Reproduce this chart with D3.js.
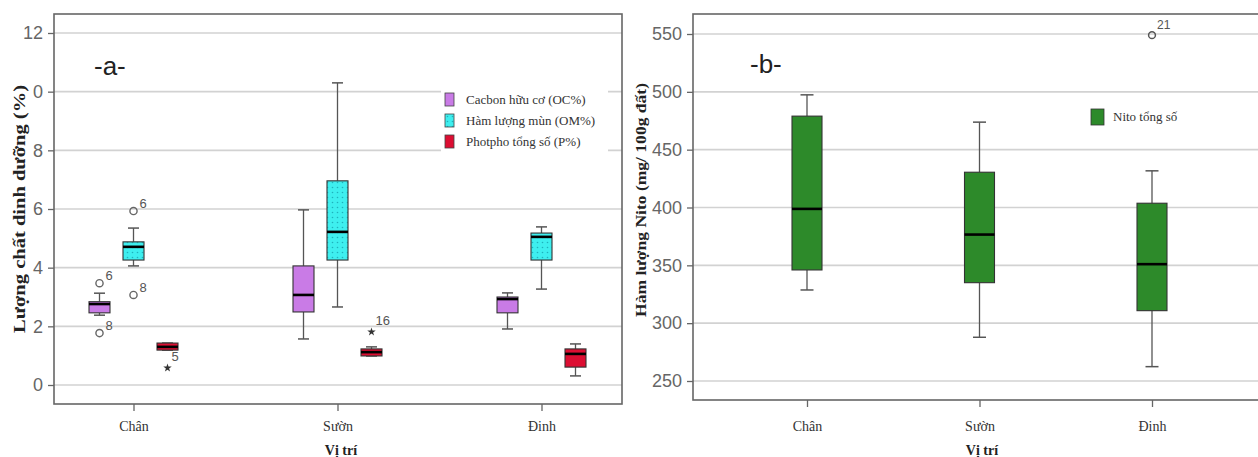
<!DOCTYPE html>
<html>
<head>
<meta charset="utf-8">
<script src="https://cdn.jsdelivr.net/npm/d3@7"></script>
<style>
  body { margin: 0; background: #fff; }
  svg { display: block; }
</style>
</head>
<body>
<div id="chart"></div>
<script>
// values
const categories = ["Chân", "Sườn", "Đinh"];
const seriesA = ["Cacbon hữu cơ (OC%)", "Hàm lượng mùn (OM%)", "Photpho tổng số (P%)"];

// [min, q1, median, q3, max] for each position
const ocStats = [[2.38, 2.46, 2.76, 2.84, 3.13], [1.57, 2.49, 3.07, 4.06, 5.97], [1.91, 2.46, 2.93, 3.0, 3.14]];
const omStats = [[4.06, 4.26, 4.71, 4.88, 5.35], [2.66, 4.26, 5.22, 6.96, 10.3], [3.27, 4.26, 5.05, 5.18, 5.39]];
const pStats  = [[1.19, 1.19, 1.30, 1.43, 1.43], [0.99, 0.99, 1.12, 1.23, 1.30], [0.31, 0.61, 1.06, 1.23, 1.40]];

// outliers: series, position, value, case number, kind
const aOutliers = [
  {s: 0, c: "Chân", v: 3.47, id: "6", kind: "o"},
  {s: 0, c: "Chân", v: 1.77, id: "8", kind: "o"},
  {s: 1, c: "Chân", v: 5.93, id: "6", kind: "o"},
  {s: 1, c: "Chân", v: 3.07, id: "8", kind: "o"},
  {s: 2, c: "Chân", v: 0.58, id: "5", kind: "*"},
  {s: 2, c: "Sườn", v: 1.81, id: "16", kind: "*"}
];
const aTicks = [0, 2, 4, 6, 8, 10, 12];
const aTickLabels = ["0", "2", "4", "6", "8", "0", "12"];

const seriesB = ["Nito tổng số"];
const nStats = [[328.7, 346, 398.8, 479, 497.4], [287.8, 335, 376.6, 430.5, 473.8], [262.4, 310.8, 351, 403.7, 431.7]];
const nOutliers = [{c: "Đinh", v: 549, id: "21"}];
const bTicks = [250, 300, 350, 400, 450, 500, 550];

const colorsA = ["#c97be6", "#3eefef", "#dc0e32"];
const colorB = "#2d8a2a";

const SERIF = "'Liberation Serif', 'Times New Roman', serif";
const NARROW = "'Liberation Sans Narrow', 'Arial Narrow', 'Liberation Sans', sans-serif";

let svg = d3.select("#chart").append("svg")
  .attr("width", 1258)
  .attr("height", 457);

// dotted fill for the OM boxes
let defs = svg.append("defs");
let pat = defs.append("pattern")
  .attr("id", "dots")
  .attr("width", 5).attr("height", 5)
  .attr("patternUnits", "userSpaceOnUse");
pat.append("rect").attr("width", 5).attr("height", 5).attr("fill", colorsA[1]);
pat.append("circle").attr("cx", 2.5).attr("cy", 2.5).attr("r", 0.8).attr("fill", "#1fb2bd");

function drawBox(g, cx, w, stats, y, fill, capW) {
  let [mn, q1, md, q3, mx] = stats;
  g.append("line").attr("x1", cx).attr("x2", cx).attr("y1", y(mx)).attr("y2", y(q3))
    .attr("stroke", "#555").attr("stroke-width", 1.3);
  g.append("line").attr("x1", cx).attr("x2", cx).attr("y1", y(q1)).attr("y2", y(mn))
    .attr("stroke", "#555").attr("stroke-width", 1.3);
  [mn, mx].forEach(function(v) {
    g.append("line").attr("x1", cx - capW / 2).attr("x2", cx + capW / 2)
      .attr("y1", y(v)).attr("y2", y(v))
      .attr("stroke", "#555").attr("stroke-width", 1.5);
  });
  g.append("rect")
    .attr("x", cx - w / 2).attr("y", y(q3))
    .attr("width", w).attr("height", Math.max(2, y(q1) - y(q3)))
    .attr("fill", fill).attr("stroke", "#333").attr("stroke-width", 1.1);
  g.append("line").attr("x1", cx - w / 2).attr("x2", cx + w / 2)
    .attr("y1", y(md)).attr("y2", y(md))
    .attr("stroke", "#000").attr("stroke-width", 2.6);
}

//GRAPH A
let aLeft = 54, aRight = 622, aTop = 14, aBottom = 404;
let xA = d3.scalePoint().domain(categories).range([133.5, 541.5]);
let subA = d3.scaleBand().domain([0, 1, 2]).range([-51, 51]);
let yA = d3.scaleLinear().domain([0, 12]).range([385, 33]);

let gA = svg.append("g");

gA.selectAll(".grid").data(aTicks).enter().append("line")
  .attr("x1", aLeft).attr("x2", aRight)
  .attr("y1", d => yA(d)).attr("y2", d => yA(d))
  .attr("stroke", "#d2d2d2").attr("stroke-width", 1.6);

// legend sits on a white patch over the gridlines
gA.append("rect").attr("x", 441).attr("y", 84).attr("width", 167).attr("height", 71).attr("fill", "#fff");

gA.append("rect")
  .attr("x", aLeft).attr("y", aTop)
  .attr("width", aRight - aLeft).attr("height", aBottom - aTop)
  .attr("fill", "none").attr("stroke", "#666").attr("stroke-width", 1.6);

let axA = gA.append("g").attr("transform", `translate(${aLeft},0)`)
  .call(d3.axisLeft(yA).tickValues(aTicks).tickSize(6).tickPadding(5)
    .tickFormat((d, i) => aTickLabels[i]));
axA.select(".domain").remove();
axA.selectAll("line").attr("stroke", "#666").attr("stroke-width", 1.3);
axA.selectAll("text").attr("fill", "#666").style("font-family", NARROW).style("font-size", "18px");

let axAx = gA.append("g").attr("transform", `translate(0,${aBottom})`)
  .call(d3.axisBottom(xA).tickSize(7).tickPadding(10));
axAx.select(".domain").remove();
axAx.selectAll("line").attr("stroke", "#666").attr("stroke-width", 1.3);
axAx.selectAll("text").attr("fill", "#333").style("font-family", SERIF).style("font-size", "14px");

let statsA = [ocStats, omStats, pStats];
statsA.forEach(function(st, s) {
  categories.forEach(function(c, i) {
    let fill = s == 1 ? "url(#dots)" : colorsA[s];
    drawBox(gA, xA(c) + subA(s) + subA.bandwidth() / 2, 21, st[i], yA, fill, 11);
  });
});

aOutliers.forEach(function(o) {
  let cx = xA(o.c) + subA(o.s) + subA.bandwidth() / 2;
  let cy = yA(o.v);
  if (o.kind == "o") {
    gA.append("circle").attr("cx", cx).attr("cy", cy).attr("r", 3.6)
      .attr("fill", "none").attr("stroke", "#666").attr("stroke-width", 1.4);
    gA.append("text").attr("x", cx + 6).attr("y", cy - 3)
      .attr("fill", "#555").style("font-family", NARROW).style("font-size", "13px").text(o.id);
  } else {
    gA.append("path").attr("transform", `translate(${cx},${cy})`)
      .attr("d", d3.symbol(d3.symbolStar, 22)())
      .attr("fill", "#333");
    gA.append("text").attr("x", cx + 4).attr("y", cy - 7)
      .attr("fill", "#555").style("font-family", NARROW).style("font-size", "13px").text(o.id);
  }
});

gA.append("text").attr("x", 94).attr("y", 75)
  .style("font-family", NARROW).style("font-size", "26px").attr("fill", "#222").text("-a-");

gA.append("text")
  .attr("transform", "translate(25,209) rotate(-90)")
  .attr("text-anchor", "middle")
  .attr("textLength", 248).attr("lengthAdjust", "spacingAndGlyphs")
  .style("font-family", SERIF).style("font-size", "16px").style("font-weight", "bold")
  .attr("fill", "#222").text("Lượng chất dinh dưỡng (%)");

gA.append("text").attr("x", 341).attr("y", 455).attr("text-anchor", "middle")
  .style("font-family", SERIF).style("font-size", "14px").style("font-weight", "bold")
  .attr("fill", "#222").text("Vị trí");

let legA = gA.append("g").selectAll("g").data(seriesA).enter().append("g")
  .attr("transform", (d, i) => `translate(445,${93 + i * 21})`);
legA.append("rect").attr("width", 9).attr("height", 13)
  .attr("fill", (d, i) => i == 1 ? "url(#dots)" : colorsA[i])
  .attr("stroke", "#444").attr("stroke-width", 0.8);
legA.append("text").attr("x", 21).attr("y", 11)
  .style("font-family", SERIF).style("font-size", "13px").attr("fill", "#333").text(d => d);

//GRAPH B
let bLeft = 693, bRight = 1270, bTop = 14, bBottom = 400;
let xB = d3.scalePoint().domain(categories).range([807, 1152]);
let yB = d3.scaleLinear().domain([250, 550]).range([381, 34]);

let gB = svg.append("g");

gB.selectAll(".grid").data(bTicks).enter().append("line")
  .attr("x1", bLeft).attr("x2", bRight)
  .attr("y1", d => yB(d)).attr("y2", d => yB(d))
  .attr("stroke", "#d2d2d2").attr("stroke-width", 1.6);

gB.append("rect")
  .attr("x", bLeft).attr("y", bTop)
  .attr("width", bRight - bLeft).attr("height", bBottom - bTop)
  .attr("fill", "none").attr("stroke", "#666").attr("stroke-width", 1.6);

let axB = gB.append("g").attr("transform", `translate(${bLeft},0)`)
  .call(d3.axisLeft(yB).tickValues(bTicks).tickSize(6).tickPadding(5));
axB.select(".domain").remove();
axB.selectAll("line").attr("stroke", "#666").attr("stroke-width", 1.3);
axB.selectAll("text").attr("fill", "#666").style("font-family", NARROW).style("font-size", "18px");

let axBx = gB.append("g").attr("transform", `translate(0,${bBottom})`)
  .call(d3.axisBottom(xB).tickSize(7).tickPadding(14));
axBx.select(".domain").remove();
axBx.selectAll("line").attr("stroke", "#666").attr("stroke-width", 1.3);
axBx.selectAll("text").attr("fill", "#333").style("font-family", SERIF).style("font-size", "14px");

categories.forEach(function(c, i) {
  drawBox(gB, xB(c), 30, nStats[i], yB, colorB, 13);
});

nOutliers.forEach(function(o) {
  let cx = xB(o.c), cy = yB(o.v);
  gB.append("circle").attr("cx", cx).attr("cy", cy).attr("r", 3.4)
    .attr("fill", "none").attr("stroke", "#555").attr("stroke-width", 1.5);
  gB.append("text").attr("x", cx + 5).attr("y", cy - 6)
    .attr("fill", "#555").style("font-family", NARROW).style("font-size", "12px").text(o.id);
});

gB.append("text").attr("x", 750).attr("y", 73)
  .style("font-family", NARROW).style("font-size", "26px").attr("fill", "#222").text("-b-");

gB.append("text")
  .attr("transform", "translate(646,200) rotate(-90)")
  .attr("text-anchor", "middle")
  .attr("textLength", 234).attr("lengthAdjust", "spacingAndGlyphs")
  .style("font-family", SERIF).style("font-size", "14px").style("font-weight", "bold")
  .attr("fill", "#222").text("Hàm lượng Nito (mg/ 100g đất)");

gB.append("text").attr("x", 982).attr("y", 455).attr("text-anchor", "middle")
  .style("font-family", SERIF).style("font-size", "14px").style("font-weight", "bold")
  .attr("fill", "#222").text("Vị trí");

let legB = gB.append("g").selectAll("g").data(seriesB).enter().append("g")
  .attr("transform", "translate(1091,109)");
legB.append("rect").attr("width", 13).attr("height", 16)
  .attr("fill", colorB).attr("stroke", "#333").attr("stroke-width", 0.8);
legB.append("text").attr("x", 22).attr("y", 12)
  .style("font-family", SERIF).style("font-size", "13px").attr("fill", "#333").text(d => d);
</script>
</body>
</html>
